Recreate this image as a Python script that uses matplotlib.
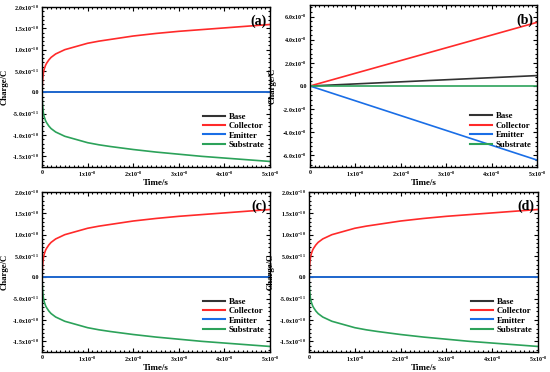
import matplotlib
matplotlib.use("Agg")
import matplotlib.pyplot as plt
import numpy as np
from matplotlib.ticker import AutoMinorLocator, FixedLocator, FixedFormatter

plt.rcParams['font.family'] = ['Liberation Serif', 'DejaVu Serif']
plt.rcParams['font.weight'] = 'bold'
plt.rcParams['mathtext.fontset'] = 'custom'
plt.rcParams['mathtext.rm'] = 'Liberation Serif:bold'
plt.rcParams['mathtext.bf'] = 'Liberation Serif:bold'
plt.rcParams['mathtext.it'] = 'Liberation Serif:bold'
plt.rcParams['mathtext.default'] = 'rm'

# time axis (s) for the transient panels (a), (c), (d)
t_curve = np.array([0, 0.01, 0.03, 0.05, 0.08, 0.1, 0.15, 0.2, 0.3, 0.4, 0.5, 0.6,
                    0.7, 0.8, 1.0, 1.25, 1.5, 2.0, 2.5, 3.0, 3.5, 4.0, 4.5, 5.0]) * 1e-8
collector_curve = np.array([0, 0.25, 0.45, 0.55, 0.64, 0.68, 0.76, 0.82, 0.9, 0.95,
                            1.0, 1.03, 1.06, 1.09, 1.15, 1.2, 1.24, 1.32, 1.38, 1.43,
                            1.47, 1.51, 1.55, 1.59]) * 1e-10
substrate_curve = np.array([0, -0.27, -0.48, -0.58, -0.67, -0.71, -0.79, -0.85, -0.93,
                            -0.98, -1.03, -1.06, -1.09, -1.12, -1.18, -1.23, -1.27,
                            -1.34, -1.4, -1.45, -1.5, -1.54, -1.58, -1.62]) * 1e-10
zero_curve = np.zeros_like(t_curve)

# panel (b): linear ramps
t_lin = np.array([0, 5.0]) * 1e-8
base_lin = np.array([0, 0.9]) * 1e-8
collector_lin = np.array([0, 5.5]) * 1e-8
emitter_lin = np.array([0, -6.4]) * 1e-8
substrate_lin = np.array([0, 0.0])

x_ticks = [0, 1e-8, 2e-8, 3e-8, 4e-8, 5e-8]
x_labels = ['0', r'1x10$^{-8}$', r'2x10$^{-8}$', r'3x10$^{-8}$', r'4x10$^{-8}$', r'5x10$^{-8}$']
ya_ticks = [-1.5e-10, -1.0e-10, -5e-11, 0, 5e-11, 1.0e-10, 1.5e-10, 2.0e-10]
ya_labels = [r'-1.5x10$^{-10}$', r'-1.0x10$^{-10}$', r'-5.0x10$^{-11}$', '0.0',
             r'5.0x10$^{-11}$', r'1.0x10$^{-10}$', r'1.5x10$^{-10}$', r'2.0x10$^{-10}$']
yb_ticks = [-6e-8, -4e-8, -2e-8, 0, 2e-8, 4e-8, 6e-8]
yb_labels = [r'-6.0x10$^{-8}$', r'-4.0x10$^{-8}$', r'-2.0x10$^{-8}$', '0.0',
             r'2.0x10$^{-8}$', r'4.0x10$^{-8}$', r'6.0x10$^{-8}$']

names = ['Base', 'Collector', 'Emitter', 'Substrate']
colors = ['#333333', '#ff2a2a', '#1a6ee6', '#2ca25a']

fig = plt.figure(figsize=(5.5, 3.72), dpi=100)
W, H = 550, 372
boxes = [(42, 7, 270, 167), (310, 5, 537, 167), (42, 192, 270, 352), (309, 192, 538, 352)]
tags = ['(a)', '(b)', '(c)', '(d)']

for i, (l, tp, r, b) in enumerate(boxes):
    ax = fig.add_axes([l / W, 1 - b / H, (r - l) / W, (b - tp) / H])
    if i == 1:
        series = [base_lin, collector_lin, emitter_lin, substrate_lin]
        tt = t_lin
        ax.set_ylim(-7e-8, 7e-8)
        yt, yl = yb_ticks, yb_labels
    else:
        series = [zero_curve, collector_curve, zero_curve, substrate_curve]
        tt = t_curve
        ax.set_ylim(-1.75e-10, 2.0e-10)
        yt, yl = ya_ticks, ya_labels
    for s, n, c in zip(series, names, colors):
        ax.plot(tt, s, color=c, lw=1.2, label=n)
    ax.set_xlim(0, 5e-8)
    ax.xaxis.set_major_locator(FixedLocator(x_ticks))
    ax.xaxis.set_major_formatter(FixedFormatter(x_labels))
    ax.yaxis.set_major_locator(FixedLocator(yt))
    ax.yaxis.set_major_formatter(FixedFormatter(yl))
    ax.xaxis.set_minor_locator(AutoMinorLocator(10))
    ax.yaxis.set_minor_locator(AutoMinorLocator(5))
    ax.tick_params(which='both', direction='in', top=True, right=True, labelsize=4.3,
                   width=0.8, pad=2)
    ax.tick_params(which='major', length=3)
    ax.tick_params(which='minor', length=1.5)
    for sp in ax.spines.values():
        sp.set_linewidth(1.0)
    ax.set_xlabel('Time/s', fontsize=6.5, fontweight='bold')
    ax.set_ylabel('Charge/C', fontsize=6.3, fontweight='bold')
    ax.xaxis.set_label_coords(0.5, -0.075)
    ax.yaxis.set_label_coords(-0.148, 0.5)
    ax.text(0.985, 0.95, tags[i], transform=ax.transAxes, ha='right', va='top',
            fontsize=10, fontweight='bold')
    leg = ax.legend(loc='lower right', bbox_to_anchor=(1.0, 0.08), frameon=False,
                    fontsize=6.3, handlelength=2.6, handletextpad=0.4,
                    labelspacing=0.15, borderaxespad=0.2)
    for h in leg.get_lines():
        h.set_linewidth(1.5)

fig.savefig('out.png', dpi=100)
